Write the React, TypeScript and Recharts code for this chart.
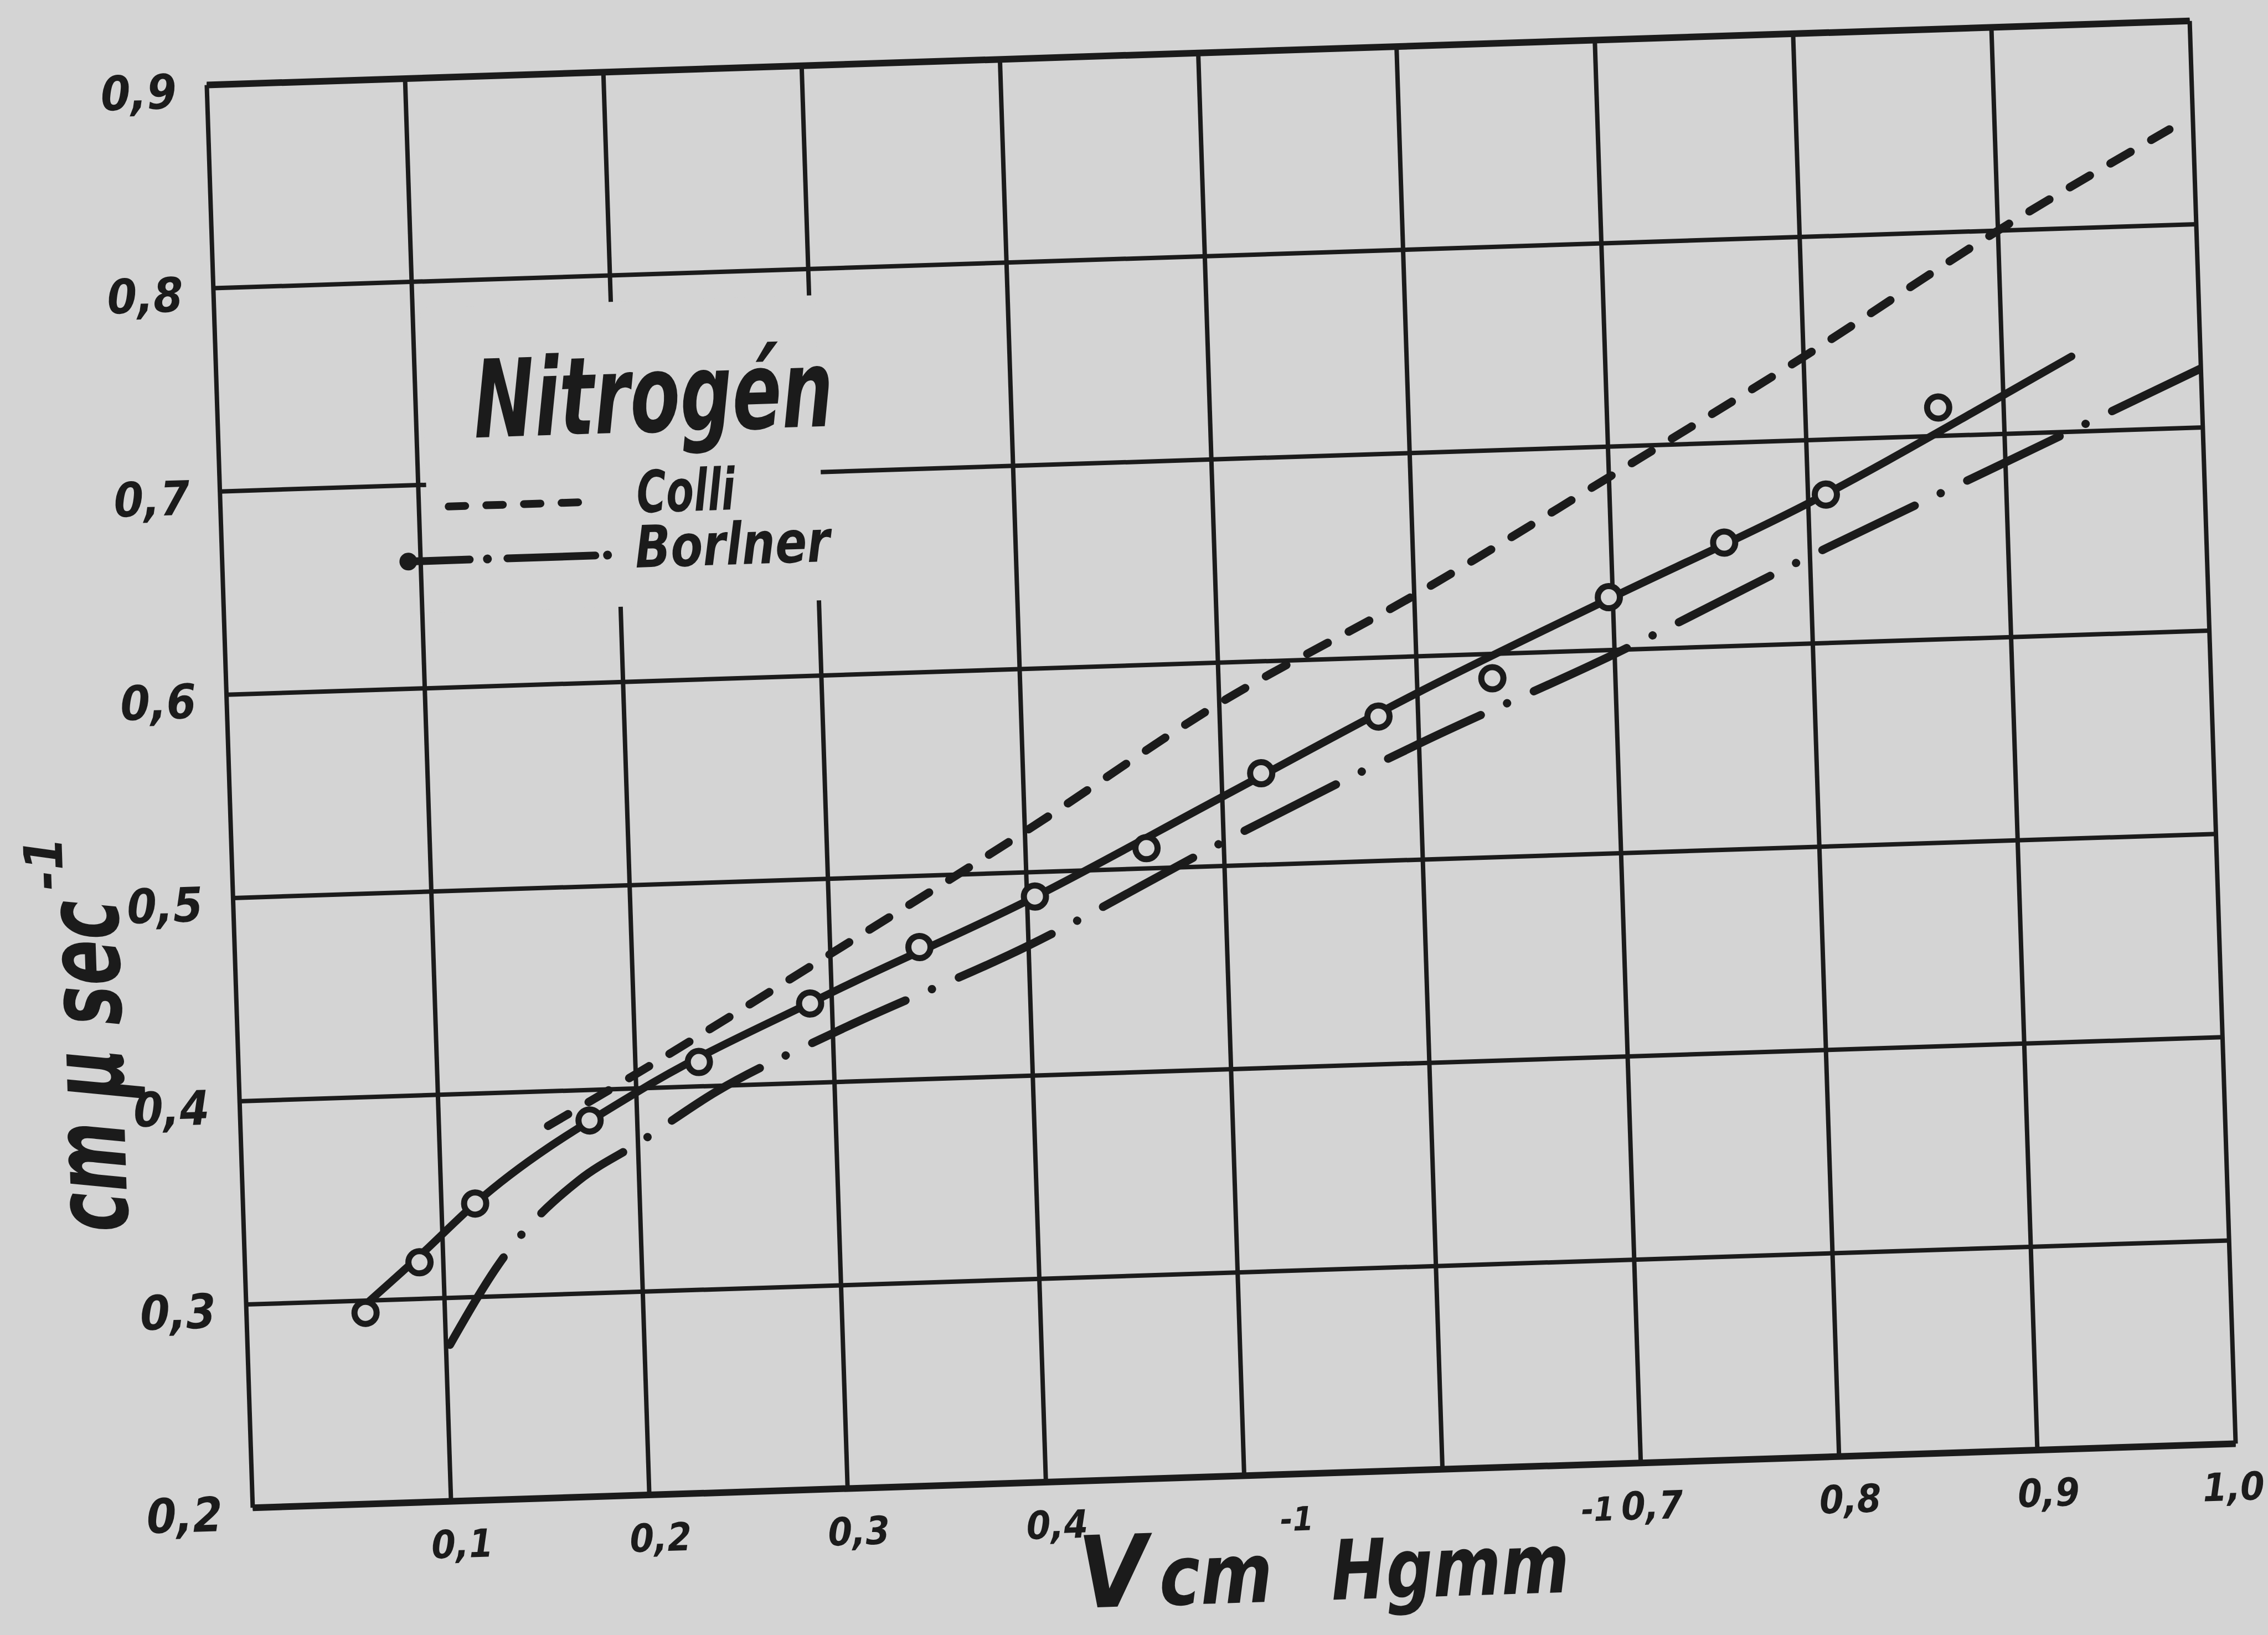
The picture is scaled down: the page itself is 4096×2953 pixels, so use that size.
import React from 'react';
import {
  ComposedChart,
  Line,
  Scatter,
  XAxis,
  YAxis,
  CartesianGrid,
  ReferenceLine,
  ReferenceArea,
  Legend,
  Label,
} from 'recharts';

// ---------------- data ----------------
const xTicks = [0, 0.1, 0.2, 0.3, 0.4, 0.5, 0.6, 0.7, 0.8, 0.9, 1.0];
const xTickLabels = ['', '0,1', '0,2', '0,3', '0,4', '', '', '0,7', '0,8', '0,9', '1,0'];
const yTicks = [0.2, 0.3, 0.4, 0.5, 0.6, 0.7, 0.8, 0.9];
const yTickLabels = ['0,2', '0,3', '0,4', '0,5', '0,6', '0,7', '0,8', '0,9'];

// measured points (open circles)
const measuredX = [0.06, 0.088, 0.117, 0.176, 0.232, 0.289, 0.345, 0.404, 0.461, 0.52, 0.58, 0.638, 0.698, 0.757, 0.809, 0.867];
const measuredY = [0.294, 0.318, 0.346, 0.385, 0.412, 0.439, 0.465, 0.488, 0.51, 0.545, 0.571, 0.588, 0.626, 0.651, 0.673, 0.714];

// solid curve drawn through the measured points
const fitX = [0.06, 0.088, 0.117, 0.2, 0.3, 0.4, 0.5, 0.6, 0.7, 0.8, 0.9, 0.935];
const fitY = [0.298, 0.321, 0.346, 0.398, 0.444, 0.486, 0.534, 0.582, 0.626, 0.669, 0.719, 0.737];

// Colli (dashed)
const colliX = [0.155, 0.2, 0.3, 0.4, 0.5, 0.6, 0.7, 0.8, 0.9, 0.988];
const colliY = [0.383, 0.407, 0.463, 0.52, 0.58, 0.63, 0.685, 0.741, 0.8, 0.847];

// Borlner (dash-dot)
const borlnerX = [0.102, 0.132, 0.17, 0.2, 0.24, 0.3, 0.4, 0.5, 0.6, 0.7, 0.8, 0.9, 1.0];
const borlnerY = [0.277, 0.321, 0.356, 0.373, 0.397, 0.424, 0.464, 0.512, 0.557, 0.598, 0.643, 0.686, 0.729];

const legendTitle = 'Nitrogén';
const seriesNames = ['Colli', 'Borlner'];
const xTitleParts = ['V', 'cm', '-1', 'Hgmm', '-1'];
const yTitleParts = ['cm µ sec', '-1'];

const toRows = (xs: number[], ys: number[]) => xs.map((x, i) => ({ x, y: ys[i] }));
const measuredData = toRows(measuredX, measuredY);
const fitData = toRows(fitX, fitY);
const colliData = toRows(colliX, colliY);
const borlnerData = toRows(borlnerX, borlnerY);

// ---------------- styling / layout ----------------
const W = 4096;
const H = 2953;
const BG = '#d4d4d4';
const INK = '#1b1b1b';
const FONT = "'Liberation Sans Narrow', 'DejaVu Sans Condensed', 'Liberation Sans', sans-serif";
const YAXIS_W = 300;
const XAXIS_H = 260;
const MARGIN = { top: 95, right: 99, bottom: 27, left: 114 };
const ROT = -1.85;

const txt = { fontFamily: FONT, fontWeight: 700, fontStyle: 'italic', fill: INK } as const;

const labelIndex = (arr: number[], v: number) => arr.findIndex((t) => Math.abs(t - v) < 1e-6);

const XTick = (props: any) => {
  const { x, y, payload } = props;
  const i = labelIndex(xTicks, payload.value);
  const label = i >= 0 ? xTickLabels[i] : '';
  if (!label) return <g />;
  const last = i === xTicks.length - 1;
  return (
    <text x={x + (last ? -6 : 18)} y={y + 102} textAnchor="middle" fontSize={70} {...txt}>
      {label}
    </text>
  );
};

const YTick = (props: any) => {
  const { x, y, payload } = props;
  const i = labelIndex(yTicks, payload.value);
  const label = i >= 0 ? yTickLabels[i] : '';
  return (
    <text x={x - 55} y={y + 40} textAnchor="end" fontSize={86} {...txt}>
      {label}
    </text>
  );
};

const XTitle = () => (
  <g>
    <text x={1900} y={2895} fontSize={180} {...txt}>{xTitleParts[0]}</text>
    <text x={2046} y={2895} fontSize={150} textLength={205} lengthAdjust="spacingAndGlyphs" {...txt}>{xTitleParts[1]}</text>
    <text x={2268} y={2768} fontSize={60} {...txt}>{xTitleParts[2]}</text>
    <text x={2357} y={2895} fontSize={150} textLength={430} lengthAdjust="spacingAndGlyphs" {...txt}>{xTitleParts[3]}</text>
    <text x={2812} y={2768} fontSize={60} {...txt}>{xTitleParts[4]}</text>
  </g>
);

const YTitle = () => (
  <g transform="rotate(-90, 205, 2159)">
    <text x={205} y={2159} fontSize={185} textLength={600} lengthAdjust="spacingAndGlyphs" {...txt}>{yTitleParts[0]}</text>
    <text x={825} y={2062} fontSize={96} textLength={95} lengthAdjust="spacingAndGlyphs" {...txt}>{yTitleParts[1]}</text>
  </g>
);

const LegendOverlay = () => (
  <svg width={1700} height={1200} style={{ position: 'absolute', left: 0, top: 0, overflow: 'visible' }}>
    <text x={877} y={747} fontSize={195} textLength={650} lengthAdjust="spacingAndGlyphs" {...txt}>
      {legendTitle}
    </text>
    <line x1={826} y1={870} x2={1072} y2={870} stroke={INK} strokeWidth={14} strokeDasharray="30 38" strokeLinecap="round" />
    <text x={1166} y={892} fontSize={105} textLength={178} lengthAdjust="spacingAndGlyphs" {...txt}>
      {seriesNames[0]}
    </text>
    <line x1={748} y1={967} x2={861} y2={967} stroke={INK} strokeWidth={14} strokeLinecap="round" />
    <circle cx={750} cy={967} r={16} fill={INK} />
    <circle cx={893} cy={967} r={8} fill={INK} />
    <line x1={929} y1={967} x2={1088} y2={967} stroke={INK} strokeWidth={14} strokeLinecap="round" />
    <circle cx={1110} cy={967} r={8} fill={INK} />
    <text x={1160} y={991} fontSize={105} textLength={352} lengthAdjust="spacingAndGlyphs" {...txt}>
      {seriesNames[1]}
    </text>
  </svg>
);

const HollowCircle = (props: any) => {
  const { cx, cy } = props;
  if (cx == null || cy == null) return <g />;
  return <circle cx={cx} cy={cy} r={20} fill={BG} stroke={INK} strokeWidth={11} />;
};

export default function App() {
  return (
    <div style={{ position: 'absolute', left: 0, top: 0, width: W, height: H, overflow: 'hidden', background: BG }}>
      <div
        style={{
          position: 'absolute',
          left: 0,
          top: 0,
          width: W,
          height: H,
          transform: `rotate(${ROT}deg)`,
          transformOrigin: '2205.5px 1380.4px',
        }}
      >
        <ComposedChart width={W} height={H} margin={MARGIN}>
          <CartesianGrid stroke={INK} strokeWidth={8} fill="none" />
          <ReferenceArea x1={0.104} x2={0.303} y1={0.637} y2={0.787} fill={BG} fillOpacity={1} stroke="none" />
          <ReferenceLine y={0.9} stroke={INK} strokeWidth={12} />
          <ReferenceLine y={0.2} stroke={INK} strokeWidth={12} />
          <XAxis
            type="number"
            dataKey="x"
            domain={[0, 1]}
            ticks={xTicks}
            interval={0}
            allowDataOverflow
            height={XAXIS_H}
            axisLine={false}
            tickLine={false}
            tickSize={0}
            tickMargin={0}
            tick={<XTick />}
          >
            <Label content={<XTitle />} />
          </XAxis>
          <YAxis
            type="number"
            dataKey="y"
            domain={[0.2, 0.9]}
            ticks={yTicks}
            interval={0}
            allowDataOverflow
            width={YAXIS_W}
            axisLine={false}
            tickLine={false}
            tickSize={0}
            tickMargin={0}
            tick={<YTick />}
          >
            <Label content={<YTitle />} />
          </YAxis>
          <Line
            data={colliData}
            dataKey="y"
            type="monotone"
            stroke={INK}
            strokeWidth={15}
            strokeDasharray="42 43"
            strokeLinecap="round"
            dot={false}
            activeDot={false}
            isAnimationActive={false}
            legendType="none"
          />
          <Line
            data={borlnerData}
            dataKey="y"
            type="monotone"
            stroke={INK}
            strokeWidth={15}
            strokeDasharray="185 52 0.1 53"
            strokeLinecap="round"
            dot={false}
            activeDot={false}
            isAnimationActive={false}
            legendType="none"
          />
          <Line
            data={fitData}
            dataKey="y"
            type="monotone"
            stroke={INK}
            strokeWidth={14}
            strokeLinecap="round"
            dot={false}
            activeDot={false}
            isAnimationActive={false}
            legendType="none"
          />
          <Scatter data={measuredData} dataKey="y" shape={<HollowCircle />} isAnimationActive={false} legendType="none" />
          <Legend
            content={<LegendOverlay />}
            wrapperStyle={{ position: 'absolute', left: 0, top: 0, width: 0, height: 0, overflow: 'visible' }}
          />
        </ComposedChart>
      </div>
    </div>
  );
}
